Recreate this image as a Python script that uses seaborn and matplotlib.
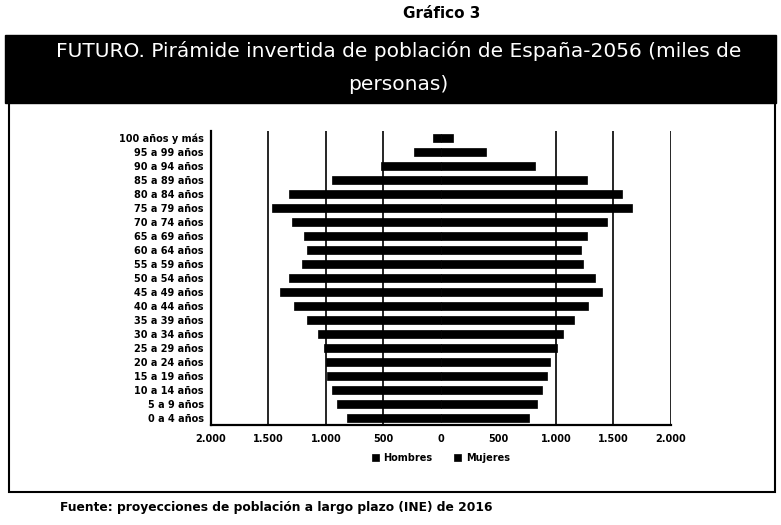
import matplotlib
matplotlib.use('Agg')

import pandas as pd
import matplotlib.pyplot as plt
import seaborn as sns
from matplotlib.patches import Rectangle
from matplotlib.ticker import FuncFormatter

# grupos de edad, de arriba a abajo
edades = ["100 años y más", "95 a 99 años", "90 a 94 años", "85 a 89 años",
          "80 a 84 años", "75 a 79 años", "70 a 74 años", "65 a 69 años",
          "60 a 64 años", "55 a 59 años", "50 a 54 años", "45 a 49 años",
          "40 a 44 años", "35 a 39 años", "30 a 34 años", "25 a 29 años",
          "20 a 24 años", "15 a 19 años", "10 a 14 años", "5 a 9 años",
          "0 a 4 años"]

# miles de personas (estimado del grafico)
hombres = [67, 232, 522, 945, 1319, 1467, 1296, 1188, 1162, 1206, 1319,
           1397, 1278, 1162, 1072, 1014, 1003, 994, 951, 901, 820]
mujeres = [102, 389, 817, 1272, 1571, 1664, 1441, 1272, 1217, 1238, 1339,
           1397, 1275, 1159, 1064, 1006, 948, 925, 881, 832, 768]

ticks = [-2000, -1500, -1000, -500, 0, 500, 1000, 1500, 2000]
rejilla = [-1500, -1000, -500, 1000, 1500, 2000]

df = pd.concat([
    pd.DataFrame({"edad": edades, "valor": [-v for v in hombres], "sexo": "Hombres"}),
    pd.DataFrame({"edad": edades, "valor": mujeres, "sexo": "Mujeres"}),
])

sns.set_style("white")
plt.rcParams['font.family'] = ['DejaVu Sans']
plt.rcParams['text.color'] = 'black'
plt.rcParams['xtick.color'] = 'black'
plt.rcParams['ytick.color'] = 'black'

fig = plt.figure(figsize=(7.81, 5.25), dpi=100)
ax = fig.add_axes([0.270, 0.190, 0.589, 0.560])

sns.barplot(data=df, x="valor", y="edad", hue="sexo", order=edades,
            dodge=False, palette=["black", "black"], width=0.6,
            orient="h", ax=ax, zorder=3, edgecolor="black", linewidth=0.5)

ax.set_xlim(-2000, 2000)
ax.set_xticks(ticks)
ax.xaxis.set_major_formatter(FuncFormatter(lambda v, p: f"{abs(int(v)):,}".replace(",", ".")))
for v in rejilla:
    ax.axvline(v, color="black", lw=1.2, zorder=1)
ax.set_xlabel("")
ax.set_ylabel("")
for s in ["top", "right"]:
    ax.spines[s].set_visible(False)
ax.spines["left"].set_linewidth(1.6)
ax.spines["bottom"].set_linewidth(1.6)
ax.spines["left"].set_color("black")
ax.spines["bottom"].set_color("black")
ax.tick_params(length=0)
for lab in ax.get_yticklabels():
    lab.set_fontsize(7)
    lab.set_fontweight("bold")
for lab in ax.get_xticklabels():
    lab.set_fontsize(7)
    lab.set_fontweight("bold")
ax.tick_params(axis="y", pad=5)
ax.tick_params(axis="x", pad=6)

leg = ax.legend(loc="upper center", bbox_to_anchor=(0.5, -0.065), ncol=2,
                frameon=False, handlelength=0.7, handleheight=0.7,
                columnspacing=2.2, handletextpad=0.5,
                prop={"size": 7, "weight": "bold"})

# cabecera y marco
fig.text(0.565, 0.975, "Gráfico 3", ha="center", va="center",
         fontsize=11, fontweight="bold")
fig.patches.append(Rectangle((0.006, 0.804), 0.988, 0.129, transform=fig.transFigure,
                             facecolor="black", edgecolor="black", zorder=0))
fig.text(0.51, 0.903, "FUTURO. Pirámide invertida de población de España-2056 (miles de",
         ha="center", va="center", color="white", fontsize=14.5)
fig.text(0.51, 0.840, "personas)", ha="center", va="center", color="white", fontsize=14.5)
fig.patches.append(Rectangle((0.012, 0.063), 0.980, 0.745, transform=fig.transFigure,
                             facecolor="none", edgecolor="black", lw=1.5))
fig.text(0.077, 0.034, "Fuente: proyecciones de población a largo plazo (INE) de 2016",
         ha="left", va="center", fontsize=8.8, fontweight="bold")

fig.savefig("out.png", dpi=100)
